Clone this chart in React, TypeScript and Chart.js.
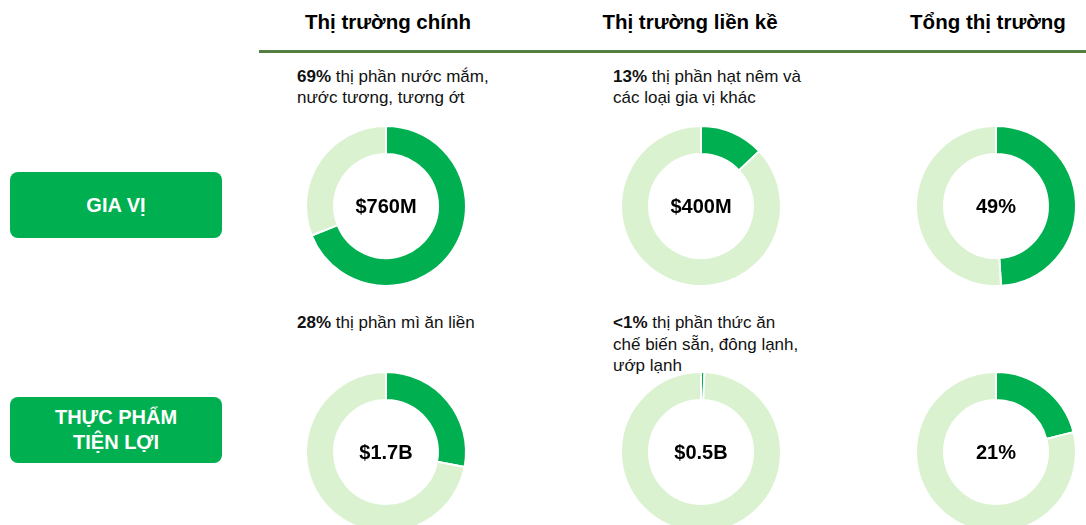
import React, { useEffect, useRef } from "react";
import { Chart, registerables } from "chart.js";

Chart.register(...registerables);

// ---------- data ----------
const columnTitles = ["Thị trường chính", "Thị trường liền kề", "Tổng thị trường"];
const rowLabels = ["GIA VỊ", "THỰC PHẨM\nTIỆN LỢI"];

const spiceShares = [69, 13, 49];
const convenienceShares = [28, 0.7, 21];

const spiceCenterLabels = ["$760M", "$400M", "49%"];
const convenienceCenterLabels = ["$1.7B", "$0.5B", "21%"];

const spiceNoteBold = ["69%", "13%", ""];
const spiceNoteText = [" thị phần nước mắm,\nnước tương, tương ớt", " thị phần hạt nêm và\ncác loại gia vị khác", ""];
const convenienceNoteBold = ["28%", "<1%", ""];
const convenienceNoteText = [" thị phần mì ăn liền", " thị phần thức ăn\nchế biến sẵn, đông lạnh,\nướp lạnh", ""];

// ---------- layout / style ----------
const GREEN = "#00B050";
const LIGHT = "#DAF2D0";
const FONT = "'Liberation Sans', Arial, sans-serif";
const colCenters = [386, 701, 996];
const rowCenters = [205.5, 452];
const headerCenters = [388, 690, 988];
const noteLeft = [297, 613, 0];
const noteTops = [65.5, 312];
const CANVAS = 176;

function Donut({ value, cx, cy, label }: { value: number; cx: number; cy: number; label: string }) {
  const ref = useRef<HTMLCanvasElement | null>(null);
  useEffect(() => {
    if (!ref.current) return;
    const chart = new Chart(ref.current, {
      type: "doughnut",
      data: {
        labels: ["Thị phần", "Còn lại"],
        datasets: [
          {
            data: [value, 100 - value],
            backgroundColor: [GREEN, LIGHT],
            borderColor: "#ffffff",
            borderWidth: 2,
            hoverOffset: 0,
          },
        ],
      },
      options: {
        responsive: false,
        animation: false,
        events: [],
        devicePixelRatio: 1,
        radius: 80,
        cutout: "65%",
        layout: { padding: 0 },
        plugins: { legend: { display: false }, tooltip: { enabled: false } },
      } as any,
    });
    return () => chart.destroy();
  }, [value]);
  return (
    <>
      <canvas
        ref={ref}
        width={CANVAS}
        height={CANVAS}
        style={{ position: "absolute", left: cx - CANVAS / 2, top: cy - CANVAS / 2, width: CANVAS, height: CANVAS }}
      />
      <div
        style={{
          position: "absolute",
          left: cx - 60,
          top: cy - 15,
          width: 120,
          height: 30,
          lineHeight: "30px",
          textAlign: "center",
          fontWeight: "bold",
          fontSize: 20,
          color: "#000",
        }}
      >
        {label}
      </div>
    </>
  );
}

function Note({ bold, text, left, top }: { bold: string; text: string; left: number; top: number }) {
  if (!bold && !text) return null;
  return (
    <div
      style={{
        position: "absolute",
        left,
        top,
        fontSize: 17,
        lineHeight: "21.5px",
        whiteSpace: "pre",
        color: "#111",
      }}
    >
      <b>{bold}</b>
      {text}
    </div>
  );
}

export default function App() {
  const rows = [
    { shares: spiceShares, centers: spiceCenterLabels, bold: spiceNoteBold, text: spiceNoteText },
    { shares: convenienceShares, centers: convenienceCenterLabels, bold: convenienceNoteBold, text: convenienceNoteText },
  ];
  const boxTops = [172, 397];
  return (
    <div
      style={{
        position: "fixed",
        left: 0,
        top: 0,
        width: 1086,
        height: 525,
        overflow: "hidden",
        background: "#fff",
        fontFamily: FONT,
      }}
    >
      {columnTitles.map((t, i) => (
        <div
          key={t}
          style={{
            position: "absolute",
            left: headerCenters[i] - 120,
            width: 240,
            top: 11.5,
            fontSize: 20.5,
            lineHeight: "20.5px",
            fontWeight: "bold",
            textAlign: "center",
            color: "#000",
            whiteSpace: "nowrap",
          }}
        >
          {t}
        </div>
      ))}
      <div style={{ position: "absolute", left: 259, top: 50, width: 827, height: 3, background: "#557F42" }} />

      {rowLabels.map((l, r) => (
        <div
          key={l}
          style={{
            position: "absolute",
            left: 10,
            top: boxTops[r],
            width: 212,
            height: 66,
            borderRadius: 8,
            background: GREEN,
            color: "#fff",
            fontWeight: "bold",
            fontSize: 20,
            lineHeight: "25px",
            display: "flex",
            alignItems: "center",
            justifyContent: "center",
            textAlign: "center",
            whiteSpace: "pre",
          }}
        >
          {l}
        </div>
      ))}

      {rows.map((row, r) =>
        row.shares.map((v, c) => (
          <React.Fragment key={`${r}-${c}`}>
            <Note bold={row.bold[c]} text={row.text[c]} left={noteLeft[c]} top={noteTops[r]} />
            <Donut value={v} cx={colCenters[c]} cy={rowCenters[r]} label={row.centers[c]} />
          </React.Fragment>
        ))
      )}
    </div>
  );
}
